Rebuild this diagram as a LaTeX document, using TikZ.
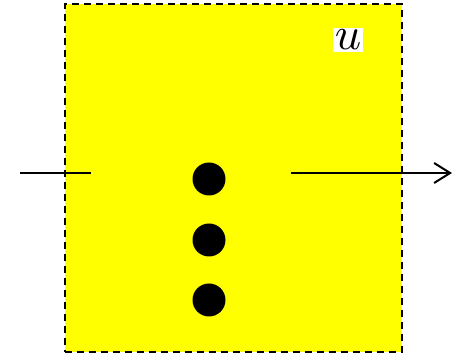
\documentclass[tikz,border=0pt]{standalone}
\usetikzlibrary{arrows.meta}
\definecolor{boxyellow}{RGB}{255,255,0}
\begin{document}
\begin{tikzpicture}[x=1pt,y=1pt,
  box/.style={fill=boxyellow,draw=black,line width=1.6pt,dash pattern=on 7pt off 5pt},
  dot/.style={circle,fill=black,minimum size=33pt,inner sep=0pt},
  wire/.style={line width=2pt},
  lbl/.style={fill=white,inner sep=0.35pt,scale=4.6}]
\useasboundingbox (0,0) rectangle (456,355);
\node[box,minimum width=337pt,minimum height=348pt,inner sep=0pt,anchor=south west] (frame) at (64,2) {};
\node[lbl] (u) at (348,315) {$u$};
\node[dot] (d1) at (209,176) {};
\node[dot] (d2) at (209,115) {};
\node[dot] (d3) at (209,55) {};
\coordinate (inL) at (20,182);
\coordinate (inR) at (91,182);
\coordinate (outL) at (291,182);
\coordinate (outR) at (452,182);
\draw[wire] (inL) -- (inR);
\draw[wire,-{Straight Barb[length=16pt,width=20pt,line width=2pt]}] (outL) -- (outR);
\end{tikzpicture}
\end{document}
